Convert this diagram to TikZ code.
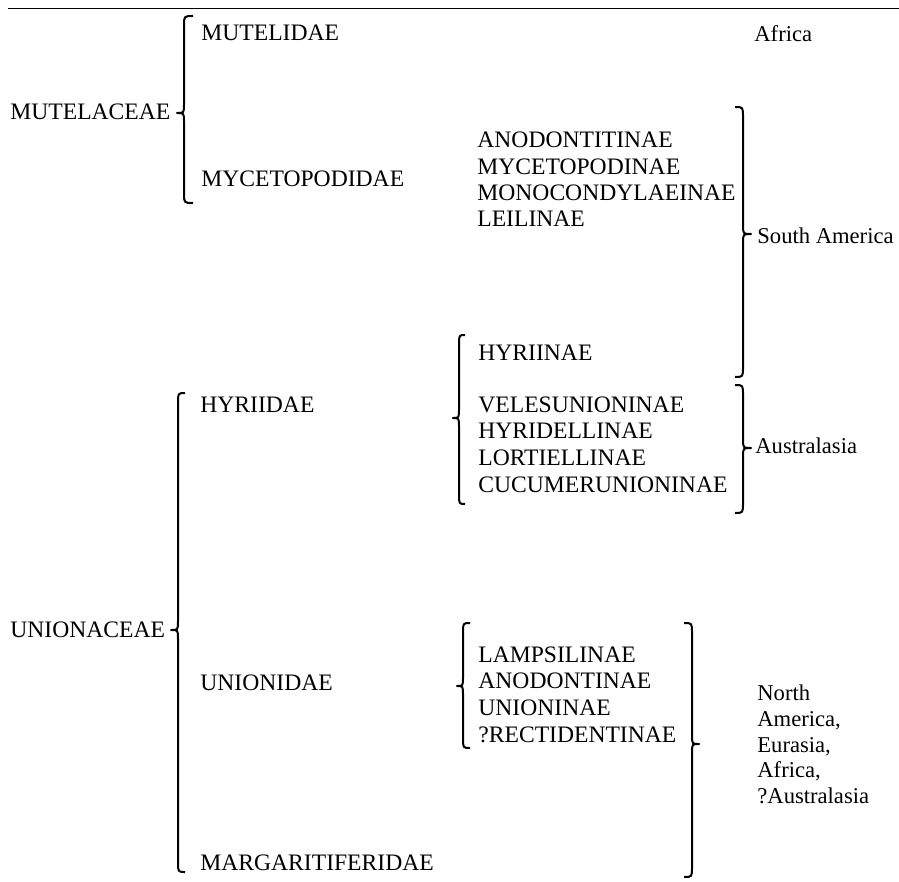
\documentclass[tikz,border=0pt]{standalone}
\usepackage{fontspec}
\setmainfont{Liberation Serif}
\usepackage{tikz}
\usetikzlibrary{calc}
% brace: [options](ends:bar:tip)(top:tip:bottom), y runs downward
\def\curlybrace[#1](#2:#3:#4)(#5:#6:#7){\draw[#1] (#2,#5) .. controls (#3,#5) .. (#3,{#5+10}) -- (#3,{#6-9}) .. controls (#3,#6) .. (#4,#6) .. controls (#3,#6) .. (#3,{#6+9}) -- (#3,{#7-10}) .. controls (#3,#7) .. (#2,#7);}

\begin{document}
\begin{tikzpicture}[x=0.5pt, y=-0.5pt,
		taxon/.style={anchor=base west, inner sep=0pt, font=\fontsize{11.8}{14}\selectfont},
		region/.style={anchor=base west, inner sep=0pt, font=\fontsize{11.3}{14}\selectfont},
		bracestyle/.style={line width=1pt, line join=round}]
		%%%%% START %%%%%
		\useasboundingbox (0, 0) rectangle (899, 882);
		
		\draw[line width=0.8pt] (8, 8.5) -- (899, 8.5);
		
		% superfamilies
		\node[taxon] (mutelaceae) at (10, 120) {MUTELACEAE};
		\node[taxon] (unionaceae) at (10, 637) {UNIONACEAE};
		
		% families
		\node[taxon] (mutelidae) at (201, 41) {MUTELIDAE};
		\node[taxon] (mycetopodidae) at (201, 187) {MYCETOPODIDAE};
		\node[taxon] (hyriidae) at (200, 412) {HYRIIDAE};
		\node[taxon] (unionidae) at (200, 690) {UNIONIDAE};
		\node[taxon] (margaritiferidae) at (200, 870) {MARGARITIFERIDAE};
		
		% subfamilies
		\node[taxon] (anodontitinae) at (477, 148) {ANODONTITINAE};
		\node[taxon] (mycetopodinae) at (477, 175) {MYCETOPODINAE};
		\node[taxon] (monocondylaeinae) at (477, 201) {MONOCONDYLAEINAE};
		\node[taxon] (leilinae) at (477, 227) {LEILINAE};
		
		\node[taxon] (hyriinae) at (478, 360) {HYRIINAE};
		\node[taxon] (velesunioninae) at (478, 412) {VELESUNIONINAE};
		\node[taxon] (hyridellinae) at (478, 438) {HYRIDELLINAE};
		\node[taxon] (lortiellinae) at (478, 465) {LORTIELLINAE};
		\node[taxon] (cucumerunioninae) at (478, 492) {CUCUMERUNIONINAE};
		
		\node[taxon] (lampsilinae) at (478, 662) {LAMPSILINAE};
		\node[taxon] (anodontinae) at (478, 688) {ANODONTINAE};
		\node[taxon] (unioninae) at (478, 715) {UNIONINAE};
		\node[taxon] (rectidentinae) at (478, 742) {?RECTIDENTINAE};
		
		% regions
		\node[region] (africa) at (754, 42) {Africa};
		\node[region] (southamerica) at (757, 243) {South America};
		\node[region] (australasia) at (755, 453) {Australasia};
		\node[region] (north) at (757, 700) {North};
		\node[region] (america) at (757, 726) {America,};
		\node[region] (eurasia) at (757, 752) {Eurasia,};
		\node[region] (africatwo) at (757, 777) {Africa,};
		\node[region] (australasiatwo) at (757, 803) {?Australasia};
		
		% braces
		\curlybrace[bracestyle](193:184:177)(16:113:203);
		\curlybrace[bracestyle](185:178:171)(393:630:872);
		\curlybrace[bracestyle](465:459:453)(335:418:504);
		\curlybrace[bracestyle](470:463:457)(623:686:748);
		\curlybrace[bracestyle](735:743:751)(107:234:377);
		\curlybrace[bracestyle](735:743:751)(385:448:513);
		\curlybrace[bracestyle](684:692:699)(623:744:877);
		
		%%%%% END %%%%%
	\end{tikzpicture}
\end{document}
